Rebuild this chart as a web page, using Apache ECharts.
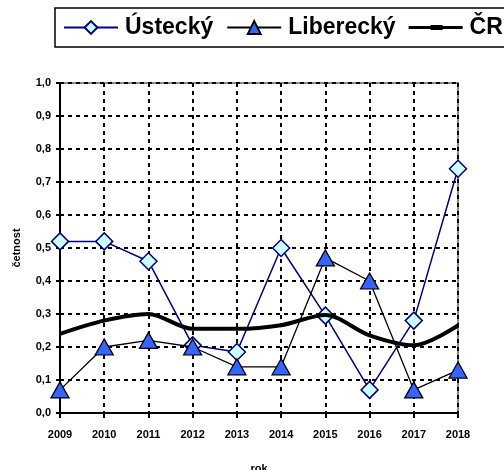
<!DOCTYPE html>
<html>
<head>
<meta charset="utf-8">
<script src="https://cdn.jsdelivr.net/npm/echarts@6/dist/echarts.min.js"></script>
<style>
html,body{margin:0;padding:0;background:#fff;}
#chart{width:504px;height:470px;}
</style>
</head>
<body>
<div id="chart"></div>
<script>
var years = ['2009','2010','2011','2012','2013','2014','2015','2016','2017','2018'];
var usti = [0.52, 0.52, 0.46, 0.205, 0.185, 0.50, 0.295, 0.07, 0.28, 0.74];
var liberec = [0.07, 0.20, 0.22, 0.20, 0.14, 0.14, 0.47, 0.40, 0.07, 0.13];
var cr = [0.24, 0.28, 0.30, 0.255, 0.255, 0.266, 0.297, 0.235, 0.205, 0.265];

var font = 'Arial, "Liberation Sans", sans-serif';
var gridLine = { show: true, lineStyle: { color: '#000', width: 2, type: [4, 4] } };
// thick line with a small dash in the middle, like the original legend key
var crIcon = 'path://M0,6 L54,6 L54,9 L0,9 Z M22,5 L34,5 L34,10 L22,10 Z';

var option = {
    animation: false,
    backgroundColor: '#fff',
    legend: {
        left: 55,
        top: 8,
        width: 800,
        padding: [8, 10, 8, 8],
        itemGap: 13,
        itemWidth: 54,
        itemHeight: 16,
        borderColor: '#000',
        borderWidth: 1.5,
        textStyle: { fontFamily: font, fontWeight: 'bold', fontSize: 23, color: '#000', padding: [0, 0, 0, 2] },
        data: ['Ústecký', 'Liberecký', { name: 'ČR', icon: crIcon }]
    },
    grid: {
        left: 60,
        right: 46,
        top: 83,
        bottom: 57,
        outerBoundsMode: 'none',
        show: true,
        borderColor: '#888',
        borderWidth: 2
    },
    xAxis: {
        type: 'category',
        data: years,
        boundaryGap: false,
        name: 'rok',
        nameLocation: 'middle',
        nameGap: 50,
        nameTextStyle: { fontFamily: font, fontWeight: 'bold', fontSize: 11, color: '#000' },
        axisLine: { lineStyle: { color: '#000', width: 2 } },
        axisTick: { show: true, length: 5, lineStyle: { color: '#000', width: 2 } },
        axisLabel: { fontFamily: font, fontWeight: 'bold', fontSize: 11, color: '#000', margin: 16 },
        splitLine: gridLine
    },
    yAxis: {
        type: 'value',
        min: 0,
        max: 1,
        interval: 0.1,
        name: 'četnost',
        nameLocation: 'middle',
        nameGap: 38,
        nameRotate: 90,
        nameTextStyle: { fontFamily: font, fontWeight: 'bold', fontSize: 11, color: '#000' },
        axisLine: { show: true, lineStyle: { color: '#000', width: 2 } },
        axisTick: { show: true, length: 4, lineStyle: { color: '#000', width: 2 } },
        axisLabel: {
            fontFamily: font, fontWeight: 'bold', fontSize: 11, color: '#000', margin: 9,
            formatter: function (v) { return v.toFixed(1).replace('.', ','); }
        },
        splitLine: gridLine
    },
    series: [
        {
            name: 'Ústecký',
            type: 'line',
            data: usti,
            symbol: 'diamond',
            symbolSize: 17,
            lineStyle: { color: '#000080', width: 1.5 },
            itemStyle: { color: '#ccffff', borderColor: '#000080', borderWidth: 1.5 },
            z: 3
        },
        {
            name: 'Liberecký',
            type: 'line',
            data: liberec,
            symbol: 'triangle',
            symbolSize: [18, 16],
            lineStyle: { color: '#000', width: 1.3 },
            itemStyle: { color: '#3366ff', borderColor: '#000', borderWidth: 1.3 },
            z: 4
        },
        {
            name: 'ČR',
            type: 'line',
            data: cr,
            smooth: 0.3,
            symbol: 'none',
            lineStyle: { color: '#000', width: 4 },
            itemStyle: { color: '#000' },
            z: 5
        }
    ]
};

var myChart = echarts.init(document.getElementById('chart'));
myChart.setOption(option);
</script>
</body>
</html>
